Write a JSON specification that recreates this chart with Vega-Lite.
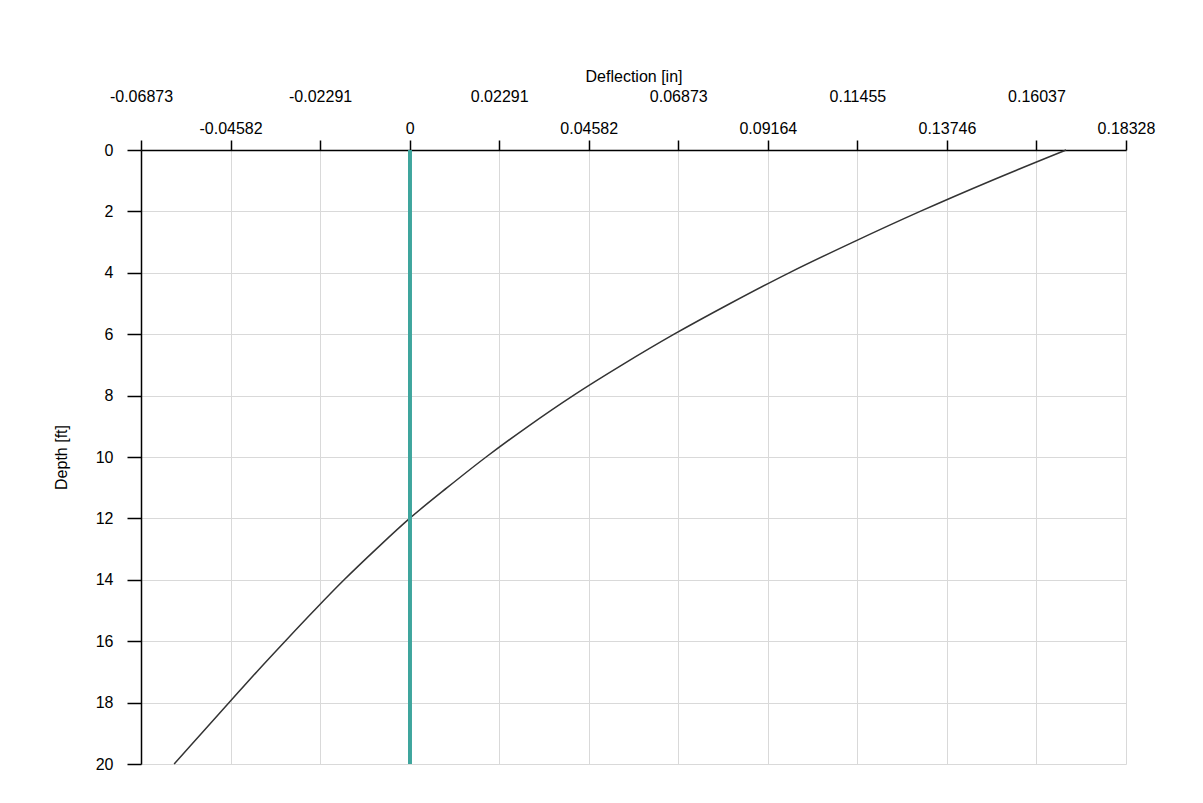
{
  "$schema": "https://vega.github.io/schema/vega-lite/v6.json",
  "width": 985,
  "height": 614,
  "autosize": {"type": "none"},
  "padding": {"left": 141, "top": 150, "right": 77, "bottom": 39},
  "background": "white",
  "config": {
    "view": {"stroke": null},
    "font": "Liberation Sans",
    "axis": {
      "labelFont": "Liberation Sans",
      "titleFont": "Liberation Sans",
      "labelFontSize": 16,
      "titleFontSize": 16,
      "titleFontWeight": "normal",
      "labelColor": "#000000",
      "titleColor": "#000000",
      "domainColor": "#000000",
      "domainWidth": 1.5,
      "tickColor": "#000000",
      "tickWidth": 1.5,
      "gridColor": "#d9d9d9",
      "gridOpacity": 1,
      "gridWidth": 1
    }
  },
  "data": {
    "values": [
      {"depth": 0, "deflection": 0.16796},
      {"depth": 1, "deflection": 0.14878},
      {"depth": 2, "deflection": 0.13061},
      {"depth": 3, "deflection": 0.11347},
      {"depth": 4, "deflection": 0.09709},
      {"depth": 5, "deflection": 0.08200},
      {"depth": 6, "deflection": 0.06767},
      {"depth": 7, "deflection": 0.05437},
      {"depth": 8, "deflection": 0.04183},
      {"depth": 9, "deflection": 0.03032},
      {"depth": 10, "deflection": 0.01957},
      {"depth": 11, "deflection": 0.00959},
      {"depth": 12, "deflection": 0.00000},
      {"depth": 13, "deflection": -0.00857},
      {"depth": 14, "deflection": -0.01676},
      {"depth": 15, "deflection": -0.02443},
      {"depth": 16, "deflection": -0.03185},
      {"depth": 17, "deflection": -0.03914},
      {"depth": 18, "deflection": -0.04618},
      {"depth": 19, "deflection": -0.05322},
      {"depth": 20, "deflection": -0.06025}
    ]
  },
  "layer": [
    {
      "mark": {"type": "line", "color": "#333333", "strokeWidth": 1.5, "interpolate": "catmull-rom"},
      "encoding": {
        "x": {
          "field": "deflection",
          "type": "quantitative",
          "scale": {"domain": [-0.06873, 0.18328], "nice": false, "zero": false},
          "axis": {
            "orient": "top",
            "title": "Deflection [in]",
            "values": [-0.06873, -0.04582, -0.02291, 0, 0.02291, 0.04582, 0.06873, 0.09164, 0.11455, 0.13746, 0.16037, 0.18328],
            "labelExpr": "'' + datum.value",
            "labelPadding": {"expr": "abs(round(datum.value / 0.02291)) % 2 == 1 ? 36 : 4"},
            "labelOverlap": false,
            "labelFlush": false,
            "tickSize": 10,
            "titlePadding": 4,
            "grid": true
          }
        },
        "y": {
          "field": "depth",
          "type": "quantitative",
          "scale": {"domain": [0, 20], "reverse": true, "nice": false},
          "axis": {
            "orient": "left",
            "title": "Depth [ft]",
            "values": [0, 2, 4, 6, 8, 10, 12, 14, 16, 18, 20],
            "tickSize": 14,
            "labelPadding": 14,
            "titlePadding": 26,
            "grid": true
          }
        },
        "order": {"field": "depth", "type": "quantitative"}
      }
    },
    {
      "mark": {"type": "rule", "color": "#3fa59d", "strokeWidth": 3},
      "encoding": {"x": {"datum": 0, "type": "quantitative"}}
    }
  ]
}
